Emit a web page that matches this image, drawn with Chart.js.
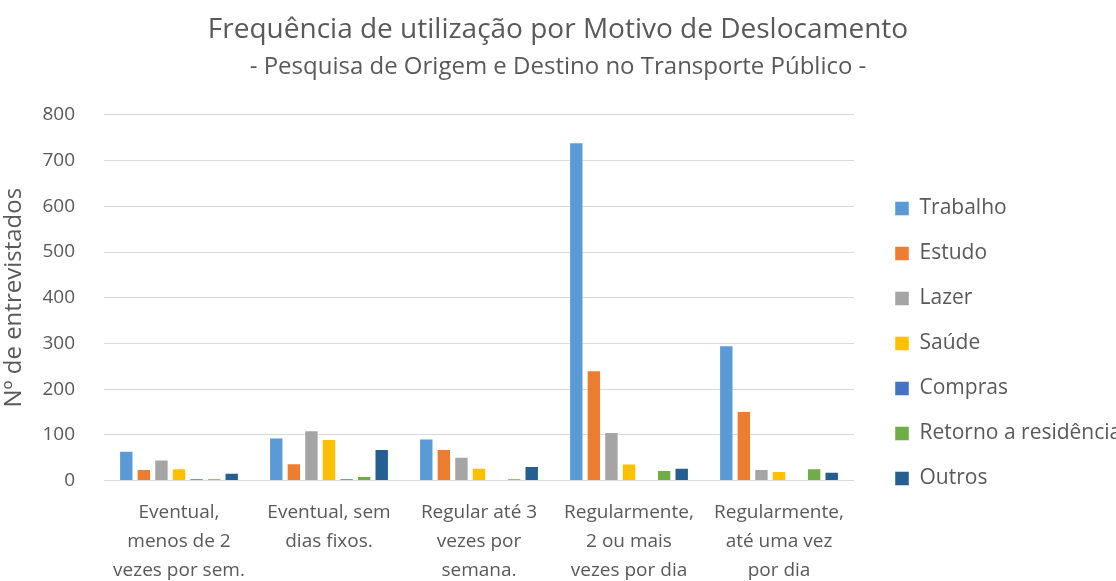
<!DOCTYPE html>
<html lang="pt">
<head>
  <meta charset="UTF-8" />
  <title>Frequência de utilização por Motivo de Deslocamento</title>
  <script src="https://cdn.jsdelivr.net/npm/chart.js"></script>
  <style>
    html, body { margin: 0; padding: 0; background: #fff; }
    #chart { display: block; }
  </style>
</head>
<body>
  <canvas id="chart" width="1116" height="581"></canvas>

  <script>
    const categories = [
      ['Eventual,', 'menos de 2', 'vezes por sem.'],
      ['Eventual, sem', 'dias fixos.'],
      ['Regular até 3', 'vezes por', 'semana.'],
      ['Regularmente,', '2 ou mais', 'vezes por dia'],
      ['Regularmente,', 'até uma vez', 'por dia']
    ];

    const trabalho = [65, 94, 92, 740, 296];
    const estudo   = [25, 38, 69, 241, 152];
    const lazer    = [46, 110, 52, 106, 25];
    const saude    = [27, 91, 28, 37, 21];
    const compras  = [4, 4, 1, 1, 0];
    const retorno  = [4, 10, 4, 23, 27];
    const outros   = [17, 69, 32, 28, 19];

    const yTicks = [0, 100, 200, 300, 400, 500, 600, 700, 800];

    const textColor = '#595959';
    const font = 'Open Sans';

    function series(label, data, color) {
      return {
        label: label,
        data: data,
        backgroundColor: color,
        borderColor: 'rgba(255,255,255,0.45)',
        borderWidth: 1,
        categoryPercentage: 0.82,
        barPercentage: 0.82
      };
    }

    // legend sits on the right with a fixed width, like the spreadsheet version
    const legendFix = {
      id: 'legendFix',
      beforeLayout(chart) {
        const lg = chart.legend;
        if (lg && !lg._patched) {
          const fit = lg.fit;
          lg.fit = function () {
            fit.call(this);
            this.width = 262;
          };
          lg._patched = true;
        }
      },
      afterLayout(chart) {
        const lg = chart.legend;
        if (!lg) return;
        lg.left += 17; lg.right += 17;
        lg.top += 53; lg.bottom += 53;
      }
    };

    new Chart(document.getElementById('chart'), {
      type: 'bar',
      data: {
        labels: categories,
        datasets: [
          series('Trabalho', trabalho, '#5B9BD5'),
          series('Estudo', estudo, '#ED7D31'),
          series('Lazer', lazer, '#A5A5A5'),
          series('Saúde', saude, '#FFC000'),
          series('Compras', compras, '#4472C4'),
          series('Retorno a residência', retorno, '#70AD47'),
          series('Outros', outros, '#255E91')
        ]
      },
      options: {
        responsive: false,
        animation: false,
        layout: { padding: 0 },
        plugins: {
          title: {
            display: true,
            text: 'Frequência de utilização por Motivo de Deslocamento',
            color: textColor,
            font: { family: font, size: 28, weight: 'normal', lineHeight: 1.2 },
            padding: { top: 13, bottom: 6 }
          },
          subtitle: {
            display: true,
            text: '- Pesquisa de Origem e Destino no Transporte Público -',
            color: textColor,
            font: { family: font, size: 24, weight: 'normal', lineHeight: 1.2 },
            padding: { top: 0, bottom: 33.5 }
          },
          legend: {
            position: 'right',
            labels: {
              color: textColor,
              font: { family: font, size: 21 },
              boxWidth: 14,
              boxHeight: 14,
              padding: 24
            }
          },
          tooltip: { enabled: false }
        },
        scales: {
          x: {
            grid: { display: false },
            border: { display: false },
            ticks: {
              color: textColor,
              font: { family: font, size: 19, lineHeight: 1.52 },
              padding: 10,
              maxRotation: 0,
              minRotation: 0,
              autoSkip: false
            },
            afterFit(scale) { scale.height = 100.5; }
          },
          y: {
            min: 0,
            max: 800,
            afterBuildTicks(scale) { scale.ticks = yTicks.map(v => ({ value: v })); },
            grid: { color: '#D9D9D9', lineWidth: 1, drawTicks: false },
            border: { display: false },
            ticks: {
              color: textColor,
              font: { family: font, size: 19 },
              padding: 29
            },
            title: {
              display: true,
              text: 'Nº de entrevistados',
              color: textColor,
              font: { family: font, size: 24 },
              padding: { top: 0, bottom: 0 }
            },
            afterFit(scale) { scale.width = 104; }
          }
        }
      },
      plugins: [legendFix]
    });
  </script>
</body>
</html>
